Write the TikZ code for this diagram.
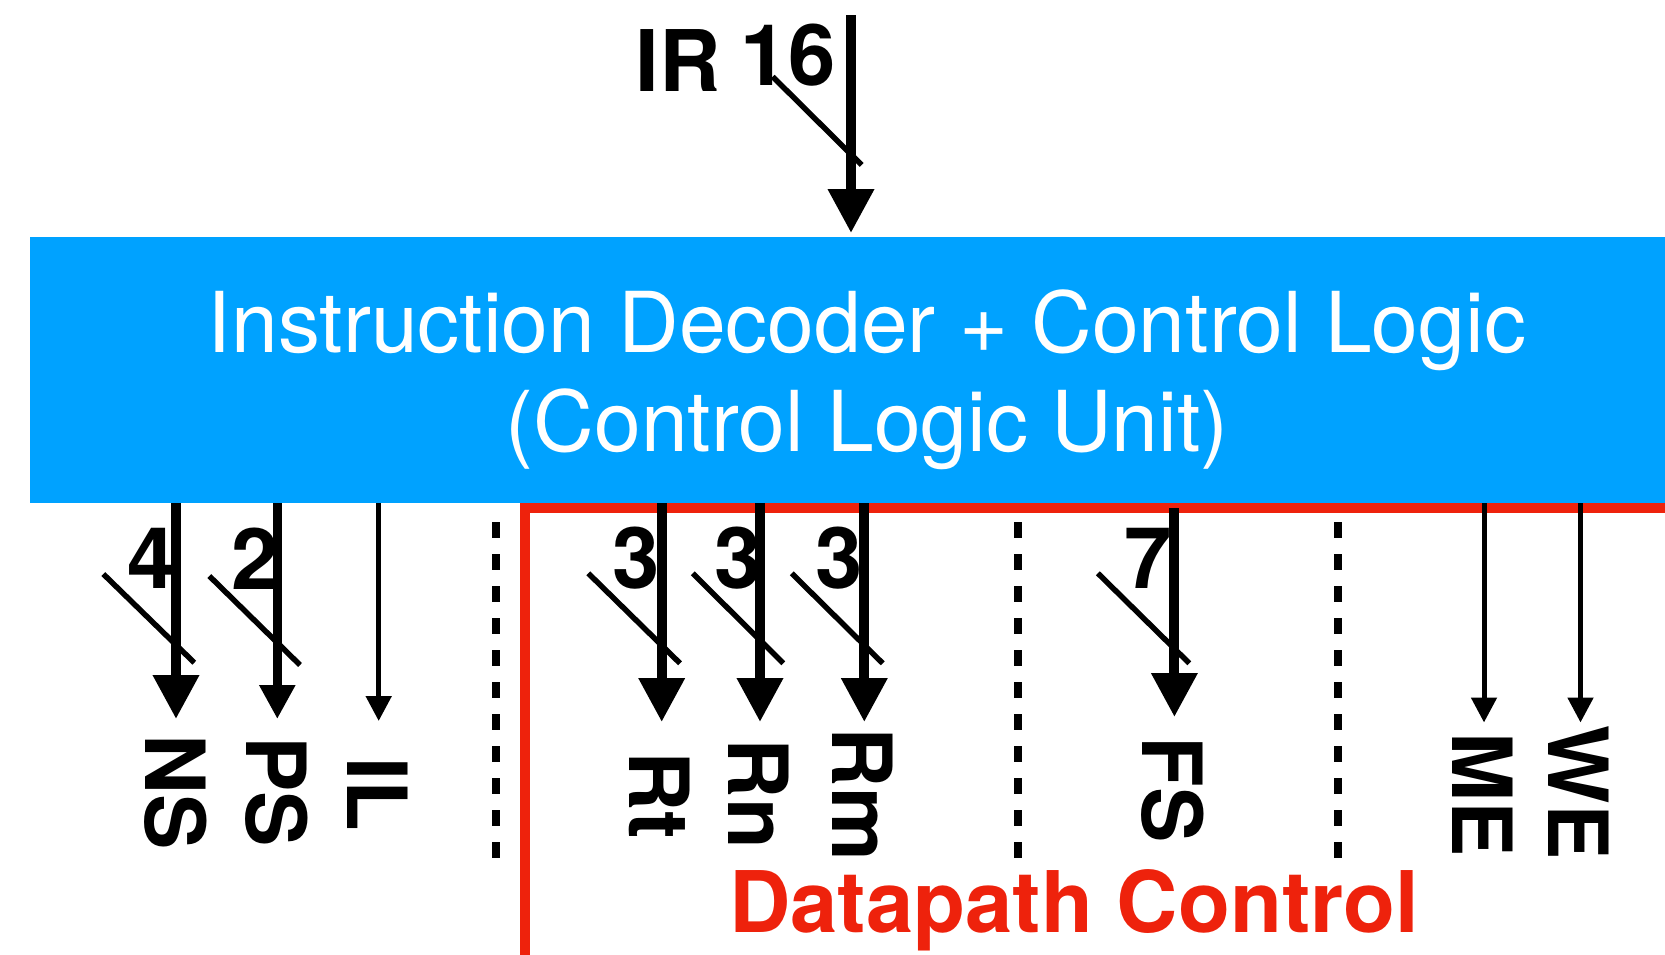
\documentclass[tikz,border=0pt]{standalone}
\usepackage{fontspec}
\setmainfont{TeX Gyre Heros}
\usetikzlibrary{arrows.meta}
\definecolor{ctlblue}{RGB}{0,162,255}
\definecolor{dpred}{RGB}{238,34,12}
\tikzset{
  ctlbox/.style={fill=ctlblue, inner sep=0pt, outer sep=0pt,
    minimum width=1674pt, minimum height=266pt, anchor=north west},
  boxtext/.style={text=white, inner sep=0pt, anchor=base,
    font=\fontsize{84}{99}\selectfont},
  siglabel/.style={rotate=-90, inner sep=0pt,
    font=\bfseries\fontsize{83}{83}\selectfont},
  widthnum/.style={inner sep=0pt, font=\bfseries\fontsize{85}{85}\selectfont},
  sigwide/.style={line width=10pt, -{Triangle[length=44pt,width=44pt]}},
  sigmed/.style={line width=9pt, -{Triangle[length=34pt,width=34pt]}},
  signarrow/.style={line width=5pt, -{Triangle[length=25pt,width=25pt]}},
  busmark/.style={line width=5.5pt},
  divider/.style={line width=8pt, dash pattern=on 16pt off 16pt},
  dpframe/.style={draw=dpred, line width=10.7pt, line join=miter},
}
\begin{document}
\begin{tikzpicture}[x=1pt, y=-1pt]
\useasboundingbox (0,0) rectangle (1665,954);
\clip (0,0) rectangle (1665,954);

% control unit block
\node[ctlbox] (ctl) at (30,237) {};
\node[boxtext] (ctltitle) at (867,352.5) {Instruction Decoder + Control Logic};
\node[boxtext] (ctlsub) at (867,451) {(Control Logic Unit)};

% datapath control frame
\coordinate (frameBot) at (525,960);
\coordinate (frameCorner) at (525,508);
\coordinate (frameRight) at (1680,508);
\draw[dpframe] (frameBot) -- (frameCorner) -- (frameRight);
\node[text=dpred, inner sep=0pt, anchor=base,
  font=\bfseries\fontsize{85}{85}\selectfont] (dplabel) at (1074,932) {Datapath Control};

% group separators
\foreach \name/\x in {sepA/496, sepB/1018, sepC/1338} {
  \coordinate (\name Top) at (\x,522);
  \coordinate (\name Bot) at (\x,860);
  \draw[divider] (\name Top) -- (\name Bot);
}

% instruction register input
\coordinate (irSrc) at (851,15);
\coordinate (irTip) at (851,233);
\node[widthnum] (irname) at (678,60.5) {IR};
\node[widthnum] (irwidth) at (788,55.5) {16};
\draw[busmark] (772.7,76.7) -- (861.7,165);
\draw[sigwide] (irSrc) -- (irTip);

% bus width numbers
\node[widthnum] (nsw) at (151,558) {4};
\node[widthnum] (psw) at (255,558.5) {2};
\node[widthnum] (rtw) at (636,558) {3};
\node[widthnum] (rnw) at (738,558) {3};
\node[widthnum] (rmw) at (839,558) {3};
\node[widthnum] (fsw) at (1148,558) {7};

% arrow tips
\coordinate (nsTip) at (176,719);
\coordinate (psTip) at (277.3,719);
\coordinate (ilTip) at (378.7,721);
\coordinate (rtTip) at (661.7,722);
\coordinate (rnTip) at (760,722);
\coordinate (rmTip) at (864.3,722);
\coordinate (fsTip) at (1174.4,717);
\coordinate (meTip) at (1484,722.5);
\coordinate (weTip) at (1580.5,722.5);

% bus slashes
\draw[busmark] (103.3,574) -- (194.3,662.7);
\draw[busmark] (209.3,576) -- (300,665);
\draw[busmark] (588.3,573.3) -- (680,663.3);
\draw[busmark] (692.7,573.3) -- (783.3,663.3);
\draw[busmark] (791.7,573.3) -- (882.7,663.3);
\draw[busmark] (1097.9,573.3) -- (1189.3,663.3);

% control signals
\draw[sigwide] (ctl.south -| nsTip) -- (nsTip);
\draw[sigmed] (ctl.south -| psTip) -- (psTip);
\draw[signarrow] (ctl.south -| ilTip) -- (ilTip);
\draw[sigwide] (ctl.south -| rtTip) -- (rtTip);
\draw[sigwide] (ctl.south -| rnTip) -- (rnTip);
\draw[sigwide] (ctl.south -| rmTip) -- (rmTip);
\draw[sigwide] ([yshift=-5pt]ctl.south -| fsTip) -- (fsTip);
\draw[signarrow] (ctl.south -| meTip) -- (meTip);
\draw[signarrow] (ctl.south -| weTip) -- (weTip);

% signal names
\node[siglabel] (ns) at (176,792.5) {NS};
\node[siglabel] (ps) at (277,791.5) {PS};
\node[siglabel] (il) at (378,794) {IL};
\node[siglabel] (rt) at (660,795.5) {Rt};
\node[siglabel] (rn) at (759,794) {Rn};
\node[siglabel] (rm) at (863,794) {Rm};
\node[siglabel] (fs) at (1173,790) {FS};
\node[siglabel] (me) at (1483,795) {ME};
\node[siglabel] (we) at (1579,792.5) {WE};
\end{tikzpicture}
\end{document}
